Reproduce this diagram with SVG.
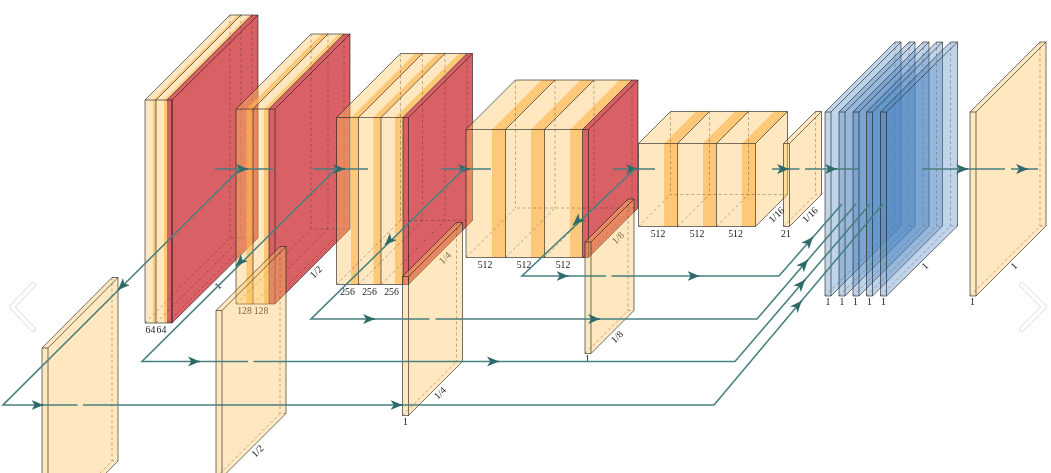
<svg xmlns="http://www.w3.org/2000/svg" width="1051" height="473" viewBox="0 0 1051 473">
<style>
.L{fill:rgb(255,197,95);fill-opacity:.4}
.O{fill:rgb(255,182,80);fill-opacity:.64}
.R{fill:rgb(210,68,74);fill-opacity:.85}
.B{fill:rgb(70,130,190);fill-opacity:.34}
.e{fill:none;stroke:#1c1c1c;stroke-width:.85;stroke-opacity:.72}
.d{fill:none;stroke:#3a2a1a;stroke-width:.75;stroke-opacity:.45;stroke-dasharray:3 2.5}
.t{font-family:"Liberation Serif",serif;font-size:9.8px;text-anchor:middle;fill:#222}
.c{fill:none;stroke:#4a8080;stroke-width:1.6}
.a{fill:none;stroke:#2f6b6b;stroke-width:1.6;marker-end:url(#h)}
.n1{fill:none;stroke:#e6e6e6;stroke-width:6;stroke-linecap:round;stroke-linejoin:round}
.n2{fill:none;stroke:#fff;stroke-width:3.6;stroke-linecap:round;stroke-linejoin:round}
</style>
<defs>
<marker id="h" markerUnits="userSpaceOnUse" markerWidth="14" markerHeight="12" viewBox="0 -6 14 12" refX="12" refY="0" orient="auto">
<path d="M12 0L0 -5L3.2 0L0 5Z" fill="#2f6b6b"/>
</marker>
<filter id="soft" filterUnits="userSpaceOnUse" x="0" y="0" width="1051" height="473"><feGaussianBlur stdDeviation=".3"/></filter>
</defs>
<rect width="1051" height="473" fill="#fff"/>
<g filter="url(#soft)">

<g id="box1">
<path class="L" d="M145 100H167V323H145Z M145 100L230 15H252L167 100Z"/>
<path class="O" d="M153 100H156V323H153Z M153 100L238 15H241L156 100Z M164 100H167V323H164Z M164 100L249 15H252L167 100Z"/>
<path class="R" d="M167 100H172V323H167Z M167 100L252 15H258L172 100Z M172 100L258 15V238L172 323Z"/>
<path class="d" d="M230 15V238 M241 15V238 M252 15V238 M145 323L230 238H258 M156 323L241 238 M167 323L252 238"/>
<path class="e" d="M145 100H172V323H145Z M156 100V323 M145 100L230 15H258V238L172 323 M156 100L241 15 M167 100L252 15 M172 100L258 15 M172 100V323"/>
<text class="t" x="150.5" y="333">64</text><text class="t" x="161.5" y="333">64</text>
<text class="t" x="218" y="286" dy=".32em" transform="rotate(-45 218 286)">1</text>
</g>

<g id="output1">
<path class="L" d="M42 348H48V532H42Z M42 348L112 277.5H118L48 348Z M48 348L118 277.5V461L48 532Z"/>
<path class="d" d="M112 277.5V461 M42 532L112 461H118"/>
<path class="e" d="M42 348H48V532H42Z M42 348L112 277.5H118V461L48 532 M48 348L118 277.5"/>
</g>

<g id="box2">
<path class="L" d="M236 109H269V304H236Z M236 109L311 34H344L269 109Z"/>
<path class="O" d="M246.5 109H253V304H246.5Z M246.5 109L321.5 34H328L253 109Z M264 109H269V304H264Z M264 109L339 34H344L269 109Z"/>
<path class="R" d="M269 109H275V304H269Z M269 109L344 34H350L275 109Z M275 109L350 34V229L275 304Z"/>
<path class="d" d="M311 34V229 M328 34V229 M344 34V229 M236 304L311 229H350 M253 304L328 229 M269 304L344 229"/>
<path class="e" d="M236 109H275V304H236Z M253 109V304 M269 109V304 M236 109L311 34H350V229L275 304 M253 109L328 34 M269 109L344 34 M275 109L350 34"/>
<text class="t" x="244.5" y="314">128</text><text class="t" x="261" y="314">128</text>
<text class="t" x="316" y="272" dy=".32em" transform="rotate(-45 316 272)">1/2</text>
</g>

<g id="output2">
<path class="L" d="M216 310.5H222V477.5H216Z M216 310.5L280 246.5H286L222 310.5Z M222 310.5L286 246.5V413.5L222 477.5Z"/>
<path class="d" d="M280 246.5V413.5 M216 477.5L280 413.5H286"/>
<path class="e" d="M216 310.5H222V477.5H216Z M216 310.5L280 246.5H286V413.5L222 477.5 M222 310.5L286 246.5"/>
<text class="t" x="257.5" y="451" dy=".32em" transform="rotate(-45 257.5 451)">1/2</text>
</g>

<g id="box3">
<path class="L" d="M336.5 117.5H403V284.5H336.5Z M336.5 117.5L400.5 53.5H467L403 117.5Z"/>
<path class="O" d="M351 117.5H358.5V284.5H351Z M351 117.5L415 53.5H422.5L358.5 117.5Z M373.5 117.5H381V284.5H373.5Z M373.5 117.5L437.5 53.5H445L381 117.5Z M395 117.5H403V284.5H395Z M395 117.5L459 53.5H467L403 117.5Z"/>
<path class="R" d="M403 117.5H408.5V284.5H403Z M403 117.5L467 53.5H472.5L408.5 117.5Z M408.5 117.5L472.5 53.5V220.5L408.5 284.5Z"/>
<path class="d" d="M400.5 53.5V220.5 M422.5 53.5V220.5 M445 53.5V220.5 M467 53.5V220.5 M336.5 284.5L400.5 220.5H472.5 M358.5 284.5L422.5 220.5 M381 284.5L445 220.5 M403 284.5L467 220.5"/>
<path class="e" d="M336.5 117.5H408.5V284.5H336.5Z M358.5 117.5V284.5 M381 117.5V284.5 M403 117.5V284.5 M336.5 117.5L400.5 53.5H472.5V220.5L408.5 284.5 M358.5 117.5L422.5 53.5 M381 117.5L445 53.5 M403 117.5L467 53.5 M408.5 117.5L472.5 53.5"/>
<text class="t" x="347.5" y="295">256</text><text class="t" x="369.5" y="295">256</text><text class="t" x="391.5" y="295">256</text>
<text class="t" x="445" y="258" dy=".32em" transform="rotate(-45 445 258)">1/4</text>
</g>

<g id="output3">
<path class="L" d="M402.5 276.5H408.5V415.5H402.5Z M402.5 276.5L456.5 222.5H462.5L408.5 276.5Z M408.5 276.5L462.5 222.5V361.5L408.5 415.5Z"/>
<path class="d" d="M456.5 222.5V361.5 M402.5 415.5L456.5 361.5H462.5"/>
<path class="e" d="M402.5 276.5H408.5V415.5H402.5Z M402.5 276.5L456.5 222.5H462.5V361.5L408.5 415.5 M408.5 276.5L462.5 222.5"/>
<text class="t" x="405.5" y="425">1</text>
<text class="t" x="440" y="393" dy=".32em" transform="rotate(-45 440 393)">1/4</text>
</g>

<g id="box4">
<path class="L" d="M466 129.5H582.5V257.5H466Z M466 129.5L515.5 80H632L582.5 129.5Z"/>
<path class="O" d="M492 129.5H505.5V257.5H492Z M492 129.5L541.5 80H555L505.5 129.5Z M531 129.5H544.5V257.5H531Z M531 129.5L580.5 80H594L544.5 129.5Z M570 129.5H582.5V257.5H570Z M570 129.5L619.5 80H632L582.5 129.5Z"/>
<path class="R" d="M582.5 129.5H588.5V257.5H582.5Z M582.5 129.5L632 80H638L588.5 129.5Z M588.5 129.5L638 80V208L588.5 257.5Z"/>
<path class="d" d="M515.5 80V208 M555 80V208 M594 80V208 M632 80V208 M466 257.5L515.5 208H638 M505.5 257.5L555 208 M544.5 257.5L594 208 M582.5 257.5L632 208"/>
<path class="e" d="M466 129.5H588.5V257.5H466Z M505.5 129.5V257.5 M544.5 129.5V257.5 M582.5 129.5V257.5 M466 129.5L515.5 80H638V208L588.5 257.5 M505.5 129.5L555 80 M544.5 129.5L594 80 M582.5 129.5L632 80 M588.5 129.5L638 80"/>
<text class="t" x="485" y="267.5">512</text><text class="t" x="524" y="267.5">512</text><text class="t" x="563" y="267.5">512</text>
<text class="t" x="618" y="238" dy=".32em" transform="rotate(-45 618 238)">1/8</text>
</g>

<g id="output4">
<path class="L" d="M585 242H591V353.5H585Z M585 242L628 199H634L591 242Z M591 242L634 199V310.5L591 353.5Z"/>
<path class="d" d="M628 199V310.5 M585 353.5L628 310.5H634"/>
<path class="e" d="M585 242H591V353.5H585Z M585 242L628 199H634V310.5L591 353.5 M591 242L634 199"/>
<text class="t" x="587.5" y="362">1</text>
<text class="t" x="617" y="337" dy=".32em" transform="rotate(-45 617 337)">1/8</text>
</g>

<g id="box5">
<path class="L" d="M638.5 143.5H755.5V226.5H638.5Z M638.5 143.5L670.5 111.5H787.5L755.5 143.5Z M755.5 143.5L787.5 111.5V194.5L755.5 226.5Z"/>
<path class="O" d="M664 143.5H677.5V226.5H664Z M664 143.5L696 111.5H709.5L677.5 143.5Z M703 143.5H716.5V226.5H703Z M703 143.5L735 111.5H748.5L716.5 143.5Z M742 143.5H755.5V226.5H742Z M742 143.5L774 111.5H787.5L755.5 143.5Z"/>
<path class="d" d="M670.5 111.5V194.5 M709.5 111.5V194.5 M748.5 111.5V194.5 M638.5 226.5L670.5 194.5H787.5 M677.5 226.5L709.5 194.5 M716.5 226.5L748.5 194.5"/>
<path class="e" d="M638.5 143.5H755.5V226.5H638.5Z M677.5 143.5V226.5 M716.5 143.5V226.5 M638.5 143.5L670.5 111.5H787.5V194.5L755.5 226.5 M677.5 143.5L709.5 111.5 M716.5 143.5L748.5 111.5 M755.5 143.5L787.5 111.5"/>
<text class="t" x="658" y="236.5">512</text><text class="t" x="697" y="236.5">512</text><text class="t" x="735.5" y="236.5">512</text>
<text class="t" x="776.5" y="215" dy=".32em" transform="rotate(-45 776.5 215)">1/16</text>
</g>

<g id="score">
<path class="L" d="M783.5 143.5H789.5V226.5H783.5Z M783.5 143.5L815.5 111.5H821.5L789.5 143.5Z M789.5 143.5L821.5 111.5V194.5L789.5 226.5Z"/>
<path class="d" d="M815.5 111.5V194.5 M783.5 226.5L815.5 194.5H821.5"/>
<path class="e" d="M783.5 143.5H789.5V226.5H783.5Z M783.5 143.5L815.5 111.5H821.5V194.5L789.5 226.5 M789.5 143.5L821.5 111.5"/>
<text class="t" x="786" y="236.5">21</text>
<text class="t" x="810" y="215" dy=".32em" transform="rotate(-45 810 215)">1/16</text>
</g>

<g id="fuse1">
<path class="B" d="M825 112H831V296H825Z M825 112L895 42H901L831 112Z M831 112L901 42V226L831 296Z"/>
<path class="d" d="M895 42V226 M825 296L895 226H901"/>
<path class="e" d="M825 112H831V296H825Z M825 112L895 42H901V226L831 296 M831 112L901 42"/>
<text class="t" x="828" y="305">1</text>
</g>
<g id="fuse2">
<path class="B" d="M839 112H845V296H839Z M839 112L909 42H915L845 112Z M845 112L915 42V226L845 296Z"/>
<path class="d" d="M909 42V226 M839 296L909 226H915"/>
<path class="e" d="M839 112H845V296H839Z M839 112L909 42H915V226L845 296 M845 112L915 42"/>
<text class="t" x="842" y="305">1</text>
</g>
<g id="fuse3">
<path class="B" d="M853 112H859V296H853Z M853 112L923 42H929L859 112Z M859 112L929 42V226L859 296Z"/>
<path class="d" d="M923 42V226 M853 296L923 226H929"/>
<path class="e" d="M853 112H859V296H853Z M853 112L923 42H929V226L859 296 M859 112L929 42"/>
<text class="t" x="855.5" y="305">1</text>
</g>
<g id="fuse4">
<path class="B" d="M866.5 112H872.5V296H866.5Z M866.5 112L936.5 42H942.5L872.5 112Z M872.5 112L942.5 42V226L872.5 296Z"/>
<path class="d" d="M936.5 42V226 M866.5 296L936.5 226H942.5"/>
<path class="e" d="M866.5 112H872.5V296H866.5Z M866.5 112L936.5 42H942.5V226L872.5 296 M872.5 112L942.5 42"/>
<text class="t" x="869.5" y="305">1</text>
</g>
<g id="fuse5">
<path class="B" d="M880.5 112H886.5V296H880.5Z M880.5 112L950.5 42H957.5L886.5 112Z M886.5 112L957.5 42V226L886.5 296Z"/>
<path class="d" d="M950.5 42V226 M880.5 296L950.5 226H957.5"/>
<path class="e" d="M880.5 112H886.5V296H880.5Z M880.5 112L950.5 42H957.5V226L886.5 296 M886.5 112L957.5 42"/>
<text class="t" x="883.5" y="305">1</text>
<text class="t" x="925" y="266" dy=".32em" transform="rotate(-45 925 266)">1</text>
</g>

<g id="final">
<path class="L" d="M970 112H976V296H970Z M970 112L1040 42H1046L976 112Z M976 112L1046 42V226L976 296Z"/>
<path class="d" d="M1040 42V226 M970 296L1040 226H1046"/>
<path class="e" d="M970 112H976V296H970Z M970 112L1040 42H1046V226L976 296 M976 112L1046 42"/>
<text class="t" x="972.5" y="305">1</text>
<text class="t" x="1014" y="266" dy=".32em" transform="rotate(-45 1014 266)">1</text>
</g>

<g id="connectors">
<path class="c" d="M215 169H273 M313 169H368 M441 169H491 M613 169H655 M772 169H799.5 M805 169H860 M922 169H1005 M1011 169H1038"/>
<path class="a" d="M246 169H248"/><path class="a" d="M343 169H345"/><path class="a" d="M468 169H470"/><path class="a" d="M636 169H638"/>
<path class="a" d="M787 169H789"/><path class="a" d="M835 169H837"/><path class="a" d="M966 169H968"/><path class="a" d="M1026 169H1028"/>
<path class="c" d="M241 168L3 405H77.5 M83 405H714L883 204"/>
<path class="c" d="M337 168L142 361.5H248 M253.5 361.5H735L870 204"/>
<path class="c" d="M465 168L311 319H429.5 M435.5 319H757L856 204"/>
<path class="c" d="M636 168L522 276H606 M611.5 276H779L842 204"/>
<path class="a" d="M119.4 288.6L118 290"/><path class="a" d="M237.4 264.6L236 266"/><path class="a" d="M386.4 243.6L385 245"/><path class="a" d="M574.4 223.7L573 225"/>
<path class="a" d="M41.5 405H43.5"/><path class="a" d="M400.5 405H402.5"/><path class="a" d="M198 361.5H200"/><path class="a" d="M497 361.5H499"/>
<path class="a" d="M373 319H375"/><path class="a" d="M598 319H600"/><path class="a" d="M566.5 276H568.5"/><path class="a" d="M697.5 276H699.5"/>
<path class="a" d="M800.4 302.2L801.7 300.7"/><path class="a" d="M803.7 281.3L805 279.8"/><path class="a" d="M806.7 261.3L808 259.8"/><path class="a" d="M811.7 238.5L813 237"/>
</g>

<g id="nav-prev"><path class="n1" d="M33 285L12 307L33 329"/><path class="n2" d="M33 285L12 307L33 329"/></g>
<g id="nav-next"><path class="n1" d="M1022 285L1044 307L1022 329"/><path class="n2" d="M1022 285L1044 307L1022 329"/></g>
</g>
</svg>
